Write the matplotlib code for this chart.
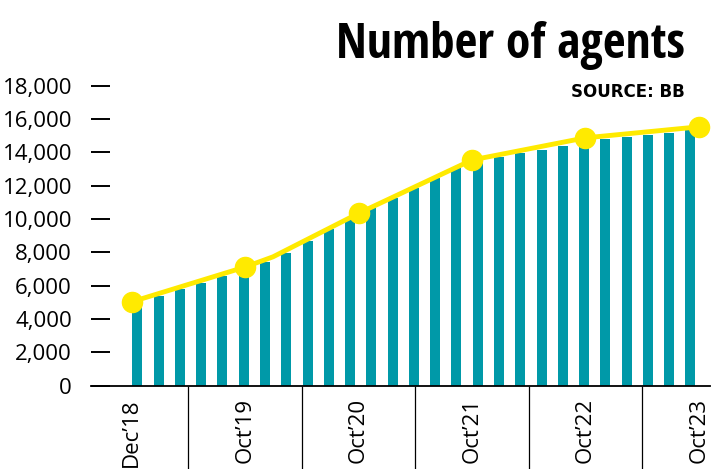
import matplotlib.pyplot as plt
import numpy as np

# Bars (one per period, Dec'18 .. Oct'23)
bar_values = [4940, 5380, 5780, 6170, 6590, 6940, 7400, 7970, 8690, 9380,
              9980, 10640, 11270, 11880, 12440, 13040, 13340, 13700, 13940,
              14140, 14380, 14630, 14780, 14900, 15040, 15170, 15400]

# Yearly points on the yellow line
year_labels = ["Dec’18", "Oct’19", "Oct’20", "Oct’21", "Oct’22", "Oct’23"]
year_pos = [-0.26, 5.07, 10.4, 15.73, 21.06, 26.39]
year_values = [5030, 7120, 10340, 13540, 14870, 15530]

# the line has one extra bend between Oct'19 and Oct'20
bend_pos = 6.38
bend_value = 7730

y_ticks = [0, 2000, 4000, 6000, 8000, 10000, 12000, 14000, 16000, 18000]
y_tick_labels = ["0", "2,000", "4,000", "6,000", "8,000", "10,000",
                 "12,000", "14,000", "16,000", "18,000"]

teal = "#0099a8"
yellow = "#ffea00"
tick_font = ["Open Sans", "DejaVu Sans"]

fig = plt.figure(figsize=(7.24, 4.69), dpi=100)
ax = fig.add_axes([0.1253, 0.1778, 0.8554, 0.6395])

x = np.arange(len(bar_values))
ax.bar(x, bar_values, width=0.47, color=teal, zorder=2)

line_x = year_pos[:2] + [bend_pos] + year_pos[2:]
line_y = year_values[:2] + [bend_value] + year_values[2:]
ax.plot(line_x, line_y, color=yellow, lw=3.5, zorder=3,
        solid_capstyle="round", solid_joinstyle="round", clip_on=False)
ax.plot(year_pos, year_values, "o", ms=14.5, color=yellow, mec=yellow,
        zorder=4, clip_on=False)

# Axes limits
ax.set_xlim(-2.19, 26.92)
ax.set_ylim(0, 18000)

# Spines
for side in ["top", "right", "left"]:
    ax.spines[side].set_visible(False)
ax.spines["bottom"].set_linewidth(1.3)
ax.spines["bottom"].set_zorder(5)

# Y ticks: short dashes, detached from labels
ax.set_yticks(y_ticks)
ax.set_yticklabels(y_tick_labels, family=tick_font, fontsize=16)
ax.tick_params(axis="y", direction="in", length=13.5, width=1.4,
               pad=13.5, colors="black")

# X ticks: rotated labels, separators as long minor ticks
ax.set_xticks(year_pos)
ax.set_xticklabels(year_labels, rotation=90, family=tick_font, fontsize=16)
ax.tick_params(axis="x", which="major", length=0, pad=9)
separators = [(a + b) / 2 for a, b in zip(year_pos[:-1], year_pos[1:])]
ax.set_xticks(separators, minor=True)
ax.tick_params(axis="x", which="minor", direction="out", length=64,
               width=0.9, color="black")

# Title and source
fig.text(685 / 724, 1 - 58 / 469, "Number of agents",
         family=["Open Sans Condensed", "DejaVu Sans"], weight="bold",
         fontsize=35.5, ha="right", va="baseline")
fig.text(685 / 724, 1 - 97 / 469, "SOURCE: BB",
         family="DejaVu Sans", weight="bold", fontsize=12,
         ha="right", va="baseline")

fig.savefig("out.png", dpi=100)
